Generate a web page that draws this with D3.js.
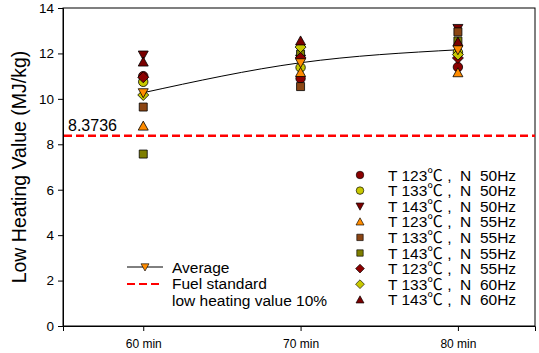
<!DOCTYPE html>
<html>
<head>
<meta charset="utf-8">
<script src="https://cdn.jsdelivr.net/npm/d3@7"></script>
<style>
  body { margin: 0; background: #fff; }
  svg text { font-family: "Liberation Sans", "Noto Sans CJK KR", Arial, sans-serif; }
</style>
</head>
<body>
<div id="chart"></div>
<script>
const times = [60, 70, 80];
const timeLabels = ["60 min", "70 min", "80 min"];
const yTicks = [0, 2, 4, 6, 8, 10, 12, 14];

const seriesNames = [
  "T 123\u2103 ,  N  50Hz", "T 133\u2103 ,  N  50Hz", "T 143\u2103 ,  N  50Hz",
  "T 123\u2103 ,  N  55Hz", "T 133\u2103 ,  N  55Hz", "T 143\u2103 ,  N  55Hz",
  "T 123\u2103 ,  N  55Hz", "T 133\u2103 ,  N  60Hz", "T 143\u2103 ,  N  60Hz"
];
const seriesShapes = ["circle", "circle", "down", "up", "square", "square", "diamond", "diamond", "up"];
const seriesColors = ["#8b0000", "#c8c800", "#7a0000", "#ff8c00", "#8b4513", "#7f7f00", "#8b0000", "#c8c800", "#7a0000"];

// values at 60, 70, 80 min
const seriesValues = [
  [11.00, 10.90, 11.40],
  [10.75, 11.38, 12.05],
  [11.93, 11.75, 13.10],
  [8.80, 11.16, 11.15],
  [9.64, 10.54, 12.95],
  [7.57, 11.97, 12.55],
  [10.95, 11.80, 11.80],
  [10.17, 12.28, 11.95],
  [11.62, 12.55, 12.50]
];
const averageValues = [10.27, 11.59, 12.16];
const fuelStandard = 8.3736;

const width = 539, height = 353;
const mLeft = 63, mRight = 535, mTop = 8, mBottom = 326;

const svg = d3.select("#chart").append("svg")
  .attr("width", width)
  .attr("height", height);

const x = d3.scaleLinear().domain([54.9, 84.9]).range([mLeft, mRight]);
const y = d3.scaleLinear().domain([0, 14]).range([mBottom, mTop]);

// frame
svg.append("rect")
  .attr("x", mLeft).attr("y", mTop)
  .attr("width", mRight - mLeft).attr("height", mBottom - mTop)
  .attr("fill", "none").attr("stroke", "#000").attr("stroke-width", 1);

// axes
const yAxis = svg.append("g")
  .attr("transform", `translate(${mLeft},0)`)
  .call(d3.axisLeft(y).tickValues(yTicks).tickSize(5).tickPadding(4));
const xAxis = svg.append("g")
  .attr("transform", `translate(0,${mBottom})`)
  .call(d3.axisBottom(x).tickValues(times).tickFormat(function(d, i) { return timeLabels[i]; }).tickSize(5).tickPadding(8));
[yAxis, xAxis].forEach(function(g) {
  g.select(".domain").attr("stroke", "#000");
  g.selectAll(".tick line").attr("stroke", "#000");
  g.selectAll("text").attr("fill", "#000").style("font-family", "Liberation Sans, Arial, sans-serif");
});
yAxis.selectAll("text").style("font-size", "13.5px");
xAxis.selectAll("text").style("font-size", "12px");

svg.append("text")
  .attr("transform", `translate(26,${(mTop + mBottom) / 2}) rotate(-90)`)
  .attr("text-anchor", "middle")
  .style("font-size", "19.5px")
  .text("Low Heating Value (MJ/kg)");

// fuel standard line
svg.append("line")
  .attr("x1", mLeft + 1).attr("x2", mRight)
  .attr("y1", y(fuelStandard)).attr("y2", y(fuelStandard))
  .attr("stroke", "#ff0000").attr("stroke-width", 2.5)
  .attr("stroke-dasharray", "8,4");
svg.append("text")
  .attr("x", 68).attr("y", y(fuelStandard) - 5)
  .style("font-size", "16px")
  .text(fuelStandard);

// average curve
const avgLine = d3.line()
  .x(function(d, i) { return x(times[i]); })
  .y(function(d) { return y(d); })
  .curve(d3.curveNatural);
svg.append("path")
  .datum(averageValues)
  .attr("d", avgLine)
  .attr("fill", "none")
  .attr("stroke", "#000")
  .attr("stroke-width", 1);

function symbolPath(shape) {
  if (shape === "circle") return d3.symbol(d3.symbolCircle, 70)();
  if (shape === "square") return "M-4,-4H4V4H-4Z";
  if (shape === "up") return "M0,-5L5,4H-5Z";
  if (shape === "down") return "M0,5L5,-4H-5Z";
  if (shape === "diamond") return "M0,-5.5L5.5,0L0,5.5L-5.5,0Z";
}

// series markers
seriesValues.forEach(function(vals, s) {
  svg.append("g").selectAll("path")
    .data(vals).enter()
    .append("path")
      .attr("transform", function(d, i) { return `translate(${x(times[i])},${y(d)})`; })
      .attr("d", symbolPath(seriesShapes[s]))
      .attr("fill", seriesColors[s])
      .attr("stroke", "#000")
      .attr("stroke-width", 0.8);
});

// average markers
svg.append("g").selectAll("path")
  .data(averageValues).enter()
  .append("path")
    .attr("transform", function(d, i) { return `translate(${x(times[i])},${y(d)})`; })
    .attr("d", symbolPath("down"))
    .attr("fill", "#ff8c00")
    .attr("stroke", "#000")
    .attr("stroke-width", 0.8);

// right legend
const legend = svg.append("g");
const rows = legend.selectAll("g")
  .data(seriesNames).enter()
  .append("g")
    .attr("transform", function(d, i) { return `translate(360,${175 + i * 15.6})`; });
rows.append("path")
  .attr("d", function(d, i) { return symbolPath(seriesShapes[i]); })
  .attr("transform", "scale(0.8)")
  .attr("fill", function(d, i) { return seriesColors[i]; })
  .attr("stroke", "#000")
  .attr("stroke-width", 0.8);
rows.append("text")
  .attr("x", 28).attr("y", 5.5)
  .style("font-size", "15.5px")
  .style("white-space", "pre")
  .attr("xml:space", "preserve")
  .text(function(d) { return d; });

// lower-left legend
const leg2 = svg.append("g");
leg2.append("line")
  .attr("x1", 127).attr("x2", 163).attr("y1", 267).attr("y2", 267)
  .attr("stroke", "#000").attr("stroke-width", 1);
leg2.append("path")
  .attr("transform", "translate(145,267) scale(0.8)")
  .attr("d", symbolPath("down"))
  .attr("fill", "#ff8c00").attr("stroke", "#000").attr("stroke-width", 0.8);
leg2.append("text").attr("x", 172).attr("y", 272.5).style("font-size", "15.5px").text("Average");
leg2.append("line")
  .attr("x1", 127).attr("x2", 163).attr("y1", 284).attr("y2", 284)
  .attr("stroke", "#ff0000").attr("stroke-width", 2)
  .attr("stroke-dasharray", "8,4");
leg2.append("text").attr("x", 172).attr("y", 289).style("font-size", "15.5px").text("Fuel standard");
leg2.append("text").attr("x", 172).attr("y", 305.5).style("font-size", "15.5px").text("low heating value 10%");
</script>
</body>
</html>
